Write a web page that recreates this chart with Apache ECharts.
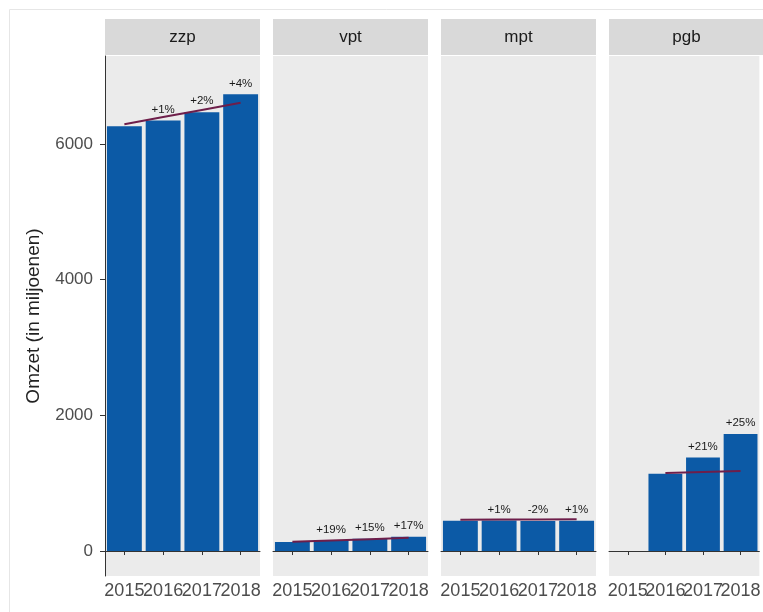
<!DOCTYPE html>
<html>
<head>
<meta charset="utf-8">
<script src="https://cdn.jsdelivr.net/npm/echarts@6/dist/echarts.min.js"></script>
<style>
  html, body { margin: 0; padding: 0; background: #ffffff; }
  #chart { width: 763px; height: 612px; }
</style>
</head>
<body>
<div id="chart"></div>
<script>
// ---- data ----
const years = ['2015', '2016', '2017', '2018'];
const panels = ['zzp', 'vpt', 'mpt', 'pgb'];

const zzpValues = [6260, 6345, 6465, 6730];
const vptValues = [132, 157, 180, 211];
const mptValues = [445, 450, 441, 446];
const pgbValues = [null, 1140, 1380, 1725];

const zzpPct = ['', '+1%', '+2%', '+4%'];
const vptPct = ['', '+19%', '+15%', '+17%'];
const mptPct = ['', '+1%', '-2%', '+1%'];
const pgbPct = ['', '', '+21%', '+25%'];

const zzpTrend = [6290, 6395, 6500, 6605];
const vptTrend = [135, 155, 175, 195];
const mptTrend = [460, 463, 466, 469];
const pgbTrend = [null, 1150, 1165, 1180];

const yTicks = [0, 2000, 4000, 6000];
const yTitle = 'Omzet (in miljoenen)';

const valuesList = [zzpValues, vptValues, mptValues, pgbValues];
const pctList = [zzpPct, vptPct, mptPct, pgbPct];
const trendList = [zzpTrend, vptTrend, mptTrend, pgbTrend];

// ---- layout ----
const FONT = '"Liberation Sans", Arial, sans-serif';
const panelLeft0 = 105, panelStep = 168, panelW = 155;
const panelTop = 56, panelH = 520;
const stripTop = 19, stripH = 36;
const yMin = -368, yMax = 7295;
const barColor = '#0c5aa6';
const lineColor = '#6e1e4a';

const grids = [], xAxes = [], yAxes = [], series = [], graphics = [];

panels.forEach((name, i) => {
  const left = panelLeft0 + i * panelStep;
  grids.push({
    left: left, top: panelTop, width: panelW, height: panelH,
    show: true, backgroundColor: '#ebebeb', borderWidth: 0
  });
  xAxes.push({
    type: 'category', gridIndex: i, data: years, boundaryGap: true,
    axisLine: { show: true, lineStyle: { color: '#333333', width: 1 } },
    axisTick: { show: true, alignWithLabel: true, length: 4, lineStyle: { color: '#333333' } },
    axisLabel: { interval: 0, hideOverlap: false, margin: 6, color: '#4d4d4d', fontSize: 18, fontFamily: FONT },
    splitLine: { show: false }
  });
  const ya = {
    type: 'value', gridIndex: i, min: yMin, max: yMax,
    splitLine: { show: false },
    axisLine: { show: i === 0, lineStyle: { color: '#333333', width: 1 } },
    axisTick: { show: i === 0, length: 5, customValues: yTicks, lineStyle: { color: '#333333' } },
    axisLabel: {
      show: i === 0, customValues: yTicks, margin: 12, color: '#4d4d4d',
      fontSize: 17, fontFamily: FONT, formatter: v => String(v)
    }
  };
  if (i === 0) {
    ya.name = yTitle;
    ya.nameLocation = 'middle';
    ya.nameGap = 62;
    ya.nameTextStyle = { color: '#222222', fontSize: 19, fontFamily: FONT };
  }
  yAxes.push(ya);

  const pct = pctList[i];
  series.push({
    type: 'bar', xAxisIndex: i, yAxisIndex: i,
    data: valuesList[i], barCategoryGap: '10%',
    itemStyle: { color: barColor },
    label: {
      show: true, position: 'top', distance: 5,
      color: '#1a1a1a', fontSize: 11.5, fontFamily: FONT,
      formatter: p => pct[p.dataIndex]
    },
    z: 2
  });
  series.push({
    type: 'line', xAxisIndex: i, yAxisIndex: i,
    data: trendList[i], showSymbol: false, symbol: 'none',
    lineStyle: { color: lineColor, width: 2 },
    z: 3, silent: true
  });

  graphics.push({
    type: 'rect', left: left, top: stripTop,
    shape: { width: panelW, height: stripH },
    style: { fill: '#d9d9d9' }, silent: true
  });
  graphics.push({
    type: 'text', x: left + panelW / 2, y: stripTop + stripH / 2,
    style: { text: name, fill: '#1a1a1a', font: '17px ' + FONT, textAlign: 'center', textVerticalAlign: 'middle' },
    silent: true
  });
});

graphics.push({
  type: 'rect', left: 7, top: 7,
  shape: { width: 800, height: 620 },
  style: { fill: 'none', stroke: '#e6e6e6', lineWidth: 1 }, silent: true, z: -10
});

const chart = echarts.init(document.getElementById('chart'), null, { renderer: 'canvas' });
chart.setOption({
  animation: false,
  backgroundColor: '#ffffff',
  grid: grids,
  xAxis: xAxes,
  yAxis: yAxes,
  series: series,
  graphic: graphics
});
</script>
</body>
</html>
